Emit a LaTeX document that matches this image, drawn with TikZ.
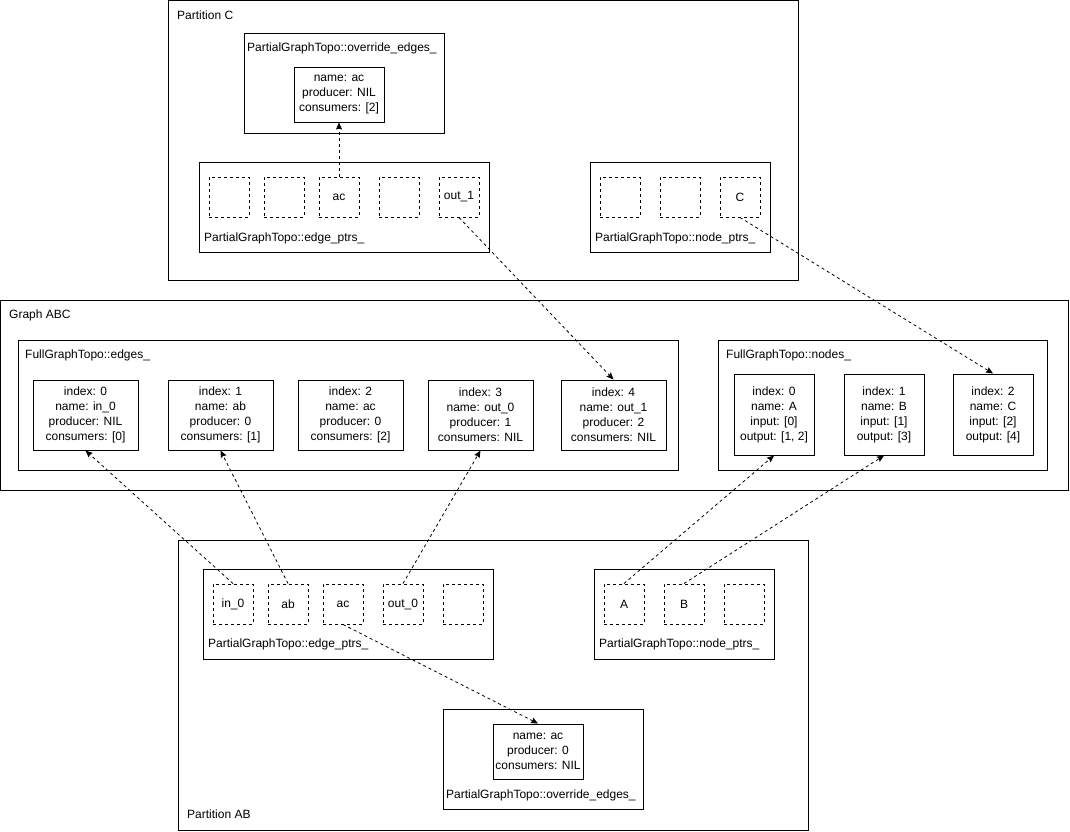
\documentclass[tikz,border=0pt]{standalone}
\usepackage{fontspec}
\setmainfont{Liberation Sans}
\usetikzlibrary{arrows.meta}
\begin{document}
\begin{tikzpicture}[x=1pt,y=-1pt,
  every node/.style={font=\fontsize{12}{15}\selectfont},
  box/.style={draw, line width=1pt, rectangle, inner sep=0pt, align=center},
  cell/.style={box, dash pattern=on 3pt off 3pt, minimum width=40, minimum height=40},
  ecell/.style={box, minimum width=105, minimum height=70},
  ncell/.style={box, minimum width=80, minimum height=81},
  lbl/.style={anchor=base west, inner sep=0pt},
  ptr/.style={line width=0.8pt, dash pattern=on 3pt off 3pt, -{Stealth[length=7pt,width=6pt,inset=1pt]}}]
\useasboundingbox (0,0) rectangle (1070,831);
\fill[white] (0,0) rectangle (1070,831);

% ---------- Partition C ----------
\node[box, minimum width=630, minimum height=279.5] (pC) at (483,140.25) {};
\node[lbl] (pClbl) at (177,19.5) {Partition C};
\node[box, minimum width=200, minimum height=100] (ovC) at (344,83) {};
\node[lbl] (ovClbl) at (247,51.5) {PartialGraphTopo::override\_edges\_};
\node[box, minimum width=90, minimum height=55] (ovCin) at (339,94.5) {name: ac\\producer: NIL\\consumers: [2]};
\node[box, minimum width=290, minimum height=90] (epC) at (344,207) {};
\node[lbl] (epClbl) at (204,241.5) {PartialGraphTopo::edge\_ptrs\_};
\node[cell] (cC1) at (229,197) {};
\node[cell] (cC2) at (284,197) {};
\node[cell] (cCac) at (339,197) {ac};
\node[cell] (cC4) at (399,197) {};
\node[cell] (cCout) at (459,197) {out\_1};
\node[box, minimum width=180, minimum height=90] (npC) at (680,207) {};
\node[lbl] (npClbl) at (595,241.5) {PartialGraphTopo::node\_ptrs\_};
\node[cell] (nC1) at (620,197) {};
\node[cell] (nC2) at (680,197) {};
\node[cell] (nCC) at (740,197) {C};

% ---------- Graph ABC ----------
\node[box, minimum width=1068, minimum height=190] (gABC) at (534.5,395) {};
\node[lbl] (glbl) at (9,318.5) {Graph ABC};
\node[box, minimum width=660, minimum height=130] (edges) at (348,405) {};
\node[lbl] (edgeslbl) at (25,358.5) {FullGraphTopo::edges\_};
\node[ecell] (e0) at (85.5,415) {index: 0\\name: in\_0\\producer: NIL\\consumers: [0]};
\node[ecell] (e1) at (220.5,415) {index: 1\\name: ab\\producer: 0\\consumers: [1]};
\node[ecell] (e2) at (350.5,415) {index: 2\\name: ac\\producer: 0\\consumers: [2]};
\node[ecell] (e3) at (480.5,415) {index: 3\\name: out\_0\\producer: 1\\consumers: NIL};
\node[ecell] (e4) at (613.5,415) {index: 4\\name: out\_1\\producer: 2\\consumers: NIL};
\node[box, minimum width=329, minimum height=130] (nodes) at (882.5,405) {};
\node[lbl] (nodeslbl) at (726,358.5) {FullGraphTopo::nodes\_};
\node[ncell] (n0) at (774,414.5) {index: 0\\name: A\\input: [0]\\output: [1, 2]};
\node[ncell] (n1) at (884,414.5) {index: 1\\name: B\\input: [1]\\output: [3]};
\node[ncell] (n2) at (993,414.5) {index: 2\\name: C\\input: [2]\\output: [4]};

% ---------- Partition AB ----------
\node[box, minimum width=630, minimum height=290] (pAB) at (493,685) {};
\node[lbl] (pABlbl) at (187,818.5) {Partition AB};
\node[box, minimum width=290, minimum height=90] (epAB) at (348,614) {};
\node[lbl] (epABlbl) at (208,647.5) {PartialGraphTopo::edge\_ptrs\_};
\node[cell] (aIn) at (233,604) {in\_0};
\node[cell] (aAb) at (288,604) {ab};
\node[cell] (aAc) at (343,604) {ac};
\node[cell] (aOut) at (403,604) {out\_0};
\node[cell] (a5) at (463,604) {};
\node[box, minimum width=180, minimum height=90] (npAB) at (684,614) {};
\node[lbl] (npABlbl) at (599,647.5) {PartialGraphTopo::node\_ptrs\_};
\node[cell] (nA) at (624,604) {A};
\node[cell] (nB) at (684,604) {B};
\node[cell] (n3) at (744,604) {};
\node[box, minimum width=200, minimum height=100] (ovAB) at (543,759) {};
\node[lbl] (ovABlbl) at (446,798.5) {PartialGraphTopo::override\_edges\_};
\node[box, minimum width=90, minimum height=55] (ovABin) at (538,751.5) {name: ac\\producer: 0\\consumers: NIL};

% ---------- pointers ----------
\draw[ptr] (cCac.north) -- (ovCin.south);
\draw[ptr] (cCout.south) -- (e4.north);
\draw[ptr] (nCC.south) -- (n2.north);
\draw[ptr] (aIn.north) -- (e0.south);
\draw[ptr] (aAb.north) -- (e1.south);
\draw[ptr] (aOut.north) -- (e3.south);
\draw[ptr] (nA.north) -- (n0.south);
\draw[ptr] (nB.north) -- (n1.south);
\draw[ptr] (aAc.south) -- (ovABin.north);
\end{tikzpicture}
\end{document}
